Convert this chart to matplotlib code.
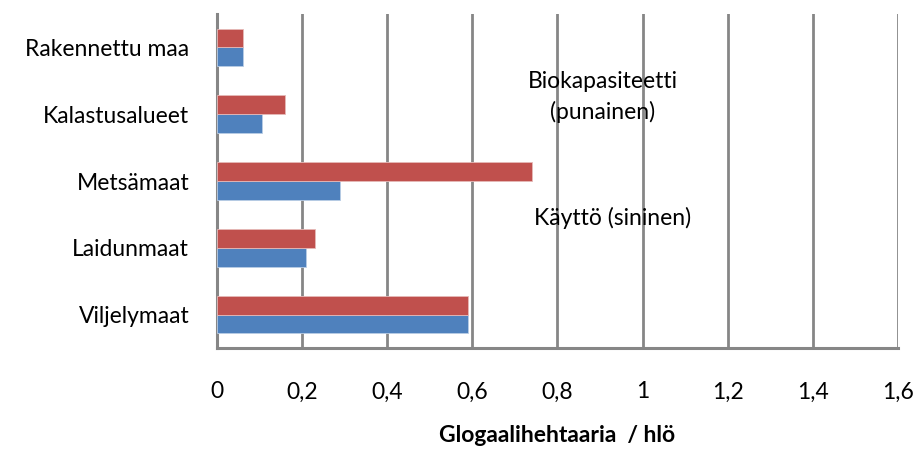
import numpy as np
from matplotlib import pyplot as plt

categories = ["Viljelymaat", "Laidunmaat", "Metsämaat", "Kalastusalueet", "Rakennettu maa"]
kaytto = [0.59, 0.21, 0.29, 0.105, 0.06]          # sininen
biokapasiteetti = [0.59, 0.23, 0.74, 0.16, 0.06]  # punainen
xticks = [0, 0.2, 0.4, 0.6, 0.8, 1, 1.2, 1.4, 1.6]
xticklabels = ["0", "0,2", "0,4", "0,6", "0,8", "1", "1,2", "1,4", "1,6"]

plt.rcParams['font.family'] = ['Lato', 'DejaVu Sans']
fs = 16.5

fig = plt.figure(figsize=(9.21, 4.59), dpi=100)
ax = fig.add_axes([0.2356, 0.2418, 0.7394, 0.7277])

y = np.arange(len(categories))
h = 0.28
ax.barh(y - h / 2, kaytto, height=h, color="#4F81BD", edgecolor="#B9CDE5", linewidth=0.6, zorder=3)
ax.barh(y + h / 2, biokapasiteetti, height=h, color="#C0504D", edgecolor="#E6B9B8", linewidth=0.6, zorder=3)

ax.set_xlim(0, 1.6)
ax.set_ylim(-0.5, len(categories) - 0.5)
ax.set_xticks(xticks)
ax.set_xticklabels(xticklabels, fontsize=fs)
ax.set_yticks(y)
ax.set_yticklabels(categories, fontsize=fs)
ax.tick_params(axis='both', length=0)
ax.tick_params(axis='x', pad=24)
ax.tick_params(axis='y', pad=20)

ax.grid(axis='x', color="#868686", linewidth=2, zorder=0)
for side in ['top', 'right']:
    ax.spines[side].set_visible(False)
for side in ['left', 'bottom']:
    ax.spines[side].set_color("#868686")
    ax.spines[side].set_linewidth(2.2)

ax.set_xlabel("Glogaalihehtaaria  / hlö", fontsize=fs, fontweight='bold', labelpad=16)

ax.text(0.906, 3.26, "Biokapasiteetti\n(punainen)", fontsize=fs, ha='center', va='center', linespacing=1.5)
ax.text(0.93, 1.45, "Käyttö (sininen)", fontsize=fs, ha='center', va='center')

fig.savefig("out.png", dpi=100)
